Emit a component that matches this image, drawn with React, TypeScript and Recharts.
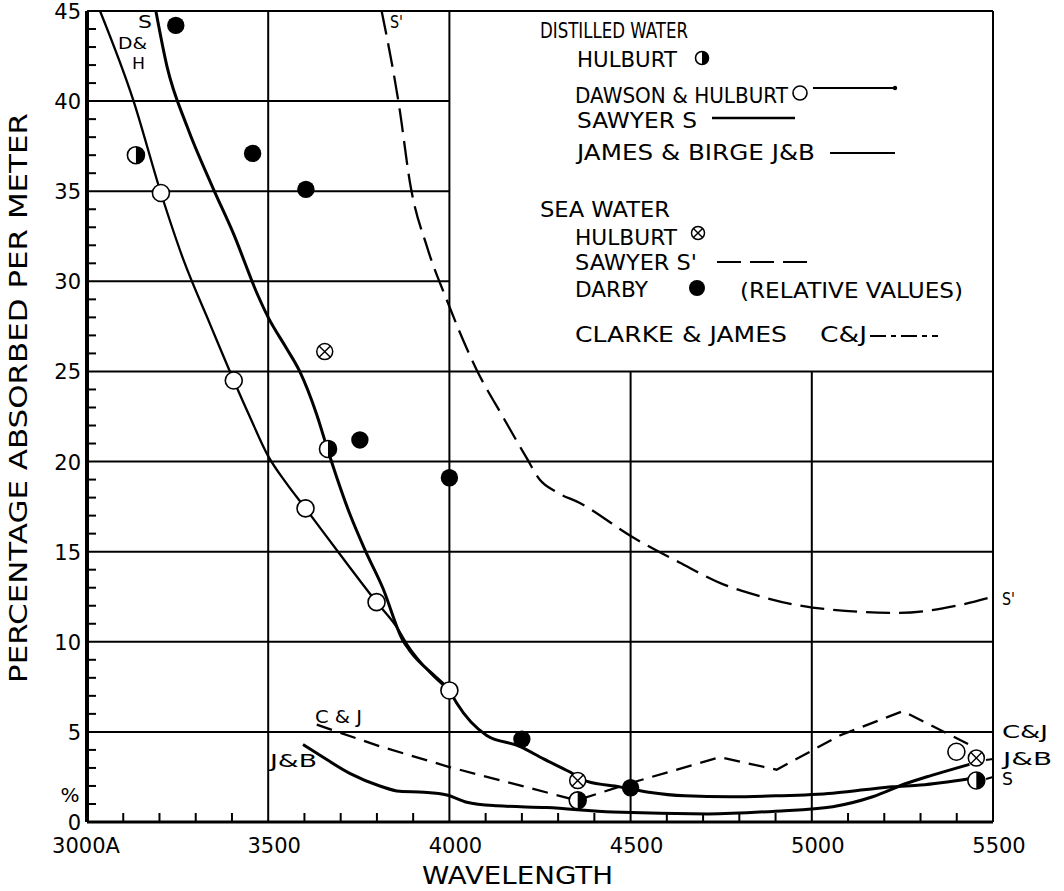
import React from 'react';
import { ComposedChart, Line, Scatter, XAxis, YAxis, ReferenceLine } from 'recharts';

const FONT = '"DejaVu Sans", "Liberation Sans", sans-serif';
const W = 1064;
const H = 891;

// ---- Distilled water curves ----
// Sawyer (S)
const sawyerWl = [3190, 3221, 3276, 3347, 3403, 3472, 3500, 3550, 3587, 3634, 3665, 3725, 3767, 3816, 3871, 3891, 3965, 4000, 4020, 4103, 4194, 4260, 4330, 4380, 4470, 4550, 4650, 4773, 4900, 5058, 5150, 5223, 5300, 5435];
const sawyerPct = [45, 41.9, 38.6, 35.2, 32.7, 29.2, 28.0, 26.3, 25.0, 22.6, 20.6, 17.1, 15.1, 13.0, 10.1, 9.5, 8.0, 7.3, 6.6, 4.8, 4.2, 3.5, 2.8, 2.25, 1.95, 1.65, 1.45, 1.4, 1.45, 1.6, 1.8, 1.95, 2.05, 2.4];

// Dawson & Hulburt (D&H)
const dawsonWl = [3036, 3127, 3204, 3266, 3340, 3405, 3449, 3500, 3550, 3603, 3700, 3799, 3855, 3882, 3946, 4000];
const dawsonPct = [45, 40.1, 34.9, 31.2, 27.6, 24.5, 22.5, 20.3, 18.8, 17.4, 14.8, 12.2, 10.8, 9.9, 8.3, 7.3];

// James & Birge (J&B)
const jamesWl = [3596, 3643, 3725, 3808, 3863, 3930, 3993, 4048, 4131, 4269, 4451, 4713, 4900, 5058, 5168, 5262, 5333, 5435];
const jamesPct = [4.3, 3.7, 2.7, 2.0, 1.7, 1.65, 1.5, 1.1, 0.9, 0.8, 0.55, 0.45, 0.6, 0.85, 1.4, 2.15, 2.6, 3.2];

// ---- Sea water curves ----
// Sawyer (S')
const sawyerSeaWl = [3813, 3863, 3891, 3940, 3992, 4075, 4150, 4213, 4249, 4296, 4360, 4506, 4635, 4754, 4828, 5002, 5242, 5400, 5500];
const sawyerSeaPct = [45, 39.5, 35.5, 31.8, 29.0, 25.1, 22.4, 20.2, 19.0, 18.3, 17.7, 15.8, 14.4, 13.2, 12.7, 11.9, 11.6, 12.0, 12.5];

// Clarke & James (C&J)
const clarkeWl = [3634, 3808, 4000, 4352, 4498, 4746, 4903, 5077, 5251, 5444];
const clarkePct = [5.4, 4.2, 3.05, 1.2, 2.15, 3.6, 2.9, 4.8, 6.15, 4.2];

// ---- Point observations ----
const hulburtDistWl = [3135, 3665, 4354, 5454];
const hulburtDistPct = [37.0, 20.7, 1.2, 2.3];

const dawsonPtWl = [3204, 3405, 3603, 3799, 4000, 5399];
const dawsonPtPct = [34.9, 24.5, 17.4, 12.2, 7.3, 3.9];

const darbyWl = [3245, 3457, 3604, 3753, 4000, 4200, 4500];
const darbyPct = [44.2, 37.1, 35.1, 21.2, 19.1, 4.6, 1.9];

const hulburtSeaWl = [3656, 4354, 5454];
const hulburtSeaPct = [26.1, 2.3, 3.55];

// ---- Axes and grid ----
const X_MIN = 3000;
const X_MAX = 5500;
const Y_MIN = 0;
const Y_MAX = 45;
const xTicks = Array.from({ length: 26 }, (_, i) => X_MIN + i * 100);
const yTicks = Array.from({ length: 46 }, (_, i) => i);
const fullRows = [5, 10, 15, 20, 25, 45];
const shortRows = [30, 35, 40];
const fullCols = [3500, 4000, 5500];
const shortCols = [4500, 5000];

const toPoints = (wl: number[], pct: number[]) => wl.map((x, i) => ({ x, y: pct[i] }));

const sawyer = toPoints(sawyerWl, sawyerPct);
const dawson = toPoints(dawsonWl, dawsonPct);
const james = toPoints(jamesWl, jamesPct);
const sawyerSea = toPoints(sawyerSeaWl, sawyerSeaPct);
const clarke = toPoints(clarkeWl, clarkePct);
const hulburtDist = toPoints(hulburtDistWl, hulburtDistPct);
const dawsonPts = toPoints(dawsonPtWl, dawsonPtPct);
const darby = toPoints(darbyWl, darbyPct);
const hulburtSea = toPoints(hulburtSeaWl, hulburtSeaPct);

// ---- Marker glyphs ----
const HalfDot = ({ cx, cy, r }: { cx: number; cy: number; r: number }) => (
  <g>
    <circle cx={cx} cy={cy} r={r} fill="#fff" stroke="#000" strokeWidth={1.6} />
    <path d={`M${cx},${cy - r} A${r},${r} 0 0 1 ${cx},${cy + r} Z`} fill="#000" />
  </g>
);
const OpenDot = ({ cx, cy, r }: { cx: number; cy: number; r: number }) => (
  <circle cx={cx} cy={cy} r={r} fill="#fff" stroke="#000" strokeWidth={1.6} />
);
const SolidDot = ({ cx, cy, r }: { cx: number; cy: number; r: number }) => (
  <circle cx={cx} cy={cy} r={r} fill="#000" />
);
const CrossDot = ({ cx, cy, r }: { cx: number; cy: number; r: number }) => {
  const d = r * 0.707;
  return (
    <g>
      <circle cx={cx} cy={cy} r={r} fill="#fff" stroke="#000" strokeWidth={1.5} />
      <line x1={cx - d} y1={cy - d} x2={cx + d} y2={cy + d} stroke="#000" strokeWidth={1.4} />
      <line x1={cx - d} y1={cy + d} x2={cx + d} y2={cy - d} stroke="#000" strokeWidth={1.4} />
    </g>
  );
};

// ---- Axis ticks: labels outside, small ticks pointing into the plot ----
const YTick = (props: any) => {
  const { x, y, payload } = props;
  const v = payload.value as number;
  const major = v % 5 === 0;
  return (
    <g>
      {!major && <line x1={x} x2={x + 9} y1={y} y2={y} stroke="#000" strokeWidth={2} />}
      {major && (
        <text x={x - 6} y={y + 8} textAnchor="end" fontSize={21} fontFamily={FONT} fill="#000">
          {v}
        </text>
      )}
    </g>
  );
};

const XTick = (props: any) => {
  const { x, y, payload } = props;
  const v = payload.value as number;
  const major = v % 500 === 0;
  return (
    <g>
      {!major && <line x1={x} x2={x} y1={y} y2={y - 9} stroke="#000" strokeWidth={2} />}
      {major && (
        <text x={v === X_MIN ? x - 1 : x + 6} y={y + 31} textAnchor="middle" fontSize={21} fontFamily={FONT} fill="#000">
          {v === X_MIN ? '3000A' : String(v)}
        </text>
      )}
    </g>
  );
};

const renderHalf = (p: any) => <HalfDot cx={p.cx} cy={p.cy} r={8.5} />;
const renderOpen = (p: any) => <OpenDot cx={p.cx} cy={p.cy} r={8.5} />;
const renderSolid = (p: any) => <SolidDot cx={p.cx} cy={p.cy} r={8.7} />;
const renderCross = (p: any) => <CrossDot cx={p.cx} cy={p.cy} r={8} />;

// ---- Text helper ----
const Txt = ({ x, y, w, size = 21, children, anchor = 'start' }: any) => (
  <text
    x={x}
    y={y}
    fontSize={size}
    fontFamily={FONT}
    fill="#000"
    textAnchor={anchor}
    textLength={w}
    lengthAdjust="spacingAndGlyphs"
  >
    {children}
  </text>
);

const Overlay = () => (
  <svg
    width={W}
    height={H}
    style={{ position: 'absolute', left: 0, top: 0, pointerEvents: 'none' }}
  >
    {/* axis titles */}
    <text
      transform="translate(27,398) rotate(-90)"
      textAnchor="middle"
      fontSize={24}
      fontFamily={FONT}
      fill="#000"
      textLength={570}
      lengthAdjust="spacingAndGlyphs"
    >
      PERCENTAGE ABSORBED PER METER
    </text>
    <Txt x={422} y={884} w={191} size={24}>WAVELENGTH</Txt>
    <text x={70} y={802} textAnchor="middle" fontSize={20} fontFamily={FONT} fill="#000">%</text>

    {/* curve tags */}
    <Txt x={138} y={28} w={14} size={18}>S</Txt>
    <Txt x={118} y={49} w={29} size={16}>D&amp;</Txt>
    <Txt x={132} y={69} w={13} size={16}>H</Txt>
    <Txt x={390} y={28} w={13} size={18}>S'</Txt>
    <Txt x={315} y={723} w={47} size={18}>C &amp; J</Txt>
    <Txt x={270} y={767} w={47} size={18}>J&amp;B</Txt>
    <Txt x={1002} y={605} w={13} size={18}>S'</Txt>
    <Txt x={1002} y={738} w={46} size={18}>C&amp;J</Txt>
    <Txt x={1003} y={765} w={49} size={18}>J&amp;B</Txt>
    <Txt x={1002} y={785} w={11} size={18}>S</Txt>
    <line x1={986} y1={760} x2={993} y2={759} stroke="#000" strokeWidth={2} />
    <line x1={986} y1={779} x2={993} y2={777} stroke="#000" strokeWidth={2} />

    {/* legend */}
    <Txt x={540} y={38} w={148}>DISTILLED WATER</Txt>
    <Txt x={577} y={67} w={100}>HULBURT</Txt>
    <HalfDot cx={702} cy={58} r={6.5} />
    <Txt x={575} y={103} w={213}>DAWSON &amp; HULBURT</Txt>
    <OpenDot cx={800} cy={93} r={7} />
    <line x1={813} y1={88} x2={893} y2={88} stroke="#000" strokeWidth={2} />
    <circle cx={895} cy={88} r={2.2} fill="#000" />
    <Txt x={577} y={128} w={120}>SAWYER  S</Txt>
    <line x1={712} y1={118} x2={795} y2={118} stroke="#000" strokeWidth={2.4} />
    <Txt x={577} y={160} w={238}>JAMES &amp; BIRGE  J&amp;B</Txt>
    <line x1={830} y1={153} x2={895} y2={153} stroke="#000" strokeWidth={2} />

    <Txt x={540} y={217} w={130}>SEA WATER</Txt>
    <Txt x={575} y={245} w={102}>HULBURT</Txt>
    <CrossDot cx={698} cy={233} r={6.5} />
    <Txt x={575} y={270} w={122}>SAWYER  S'</Txt>
    <line x1={717} y1={262} x2={810} y2={262} stroke="#000" strokeWidth={2} strokeDasharray="24 9" />
    <Txt x={575} y={297} w={73}>DARBY</Txt>
    <SolidDot cx={697} cy={288} r={8} />
    <Txt x={740} y={298} w={223}>(RELATIVE VALUES)</Txt>
    <Txt x={575} y={342} w={212}>CLARKE &amp; JAMES</Txt>
    <Txt x={820} y={342} w={47}>C&amp;J</Txt>
    <line x1={870} y1={336} x2={938} y2={336} stroke="#000" strokeWidth={2} strokeDasharray="16 5 5 5" />
  </svg>
);

export default function App() {
  return (
    <div style={{ position: 'relative', width: W, height: H, background: '#fff' }}>
      <style>{'body{margin:0;overflow:hidden;background:#fff}'}</style>
      <ComposedChart
        width={W}
        height={H}
        margin={{ top: 11, right: 71, bottom: 29, left: 0 }}
      >
        <XAxis
          type="number"
          dataKey="x"
          domain={[X_MIN, X_MAX]}
          ticks={xTicks}
          interval={0}
          allowDataOverflow
          height={40}
          tickSize={0}
          tickMargin={0}
          tickLine={false}
          tick={<XTick />}
          axisLine={{ stroke: '#000', strokeWidth: 3 }}
        />
        <YAxis
          type="number"
          dataKey="y"
          domain={[Y_MIN, Y_MAX]}
          ticks={yTicks}
          interval={0}
          allowDataOverflow
          width={87}
          tickSize={0}
          tickMargin={0}
          tickLine={false}
          tick={<YTick />}
          axisLine={{ stroke: '#000', strokeWidth: 4 }}
        />

        {fullRows.map((v) => (
          <ReferenceLine key={`r${v}`} segment={[{ x: X_MIN, y: v }, { x: X_MAX, y: v }]} stroke="#000" strokeWidth={2} />
        ))}
        {shortRows.map((v) => (
          <ReferenceLine key={`s${v}`} segment={[{ x: X_MIN, y: v }, { x: 4000, y: v }]} stroke="#000" strokeWidth={2} />
        ))}
        {fullCols.map((v) => (
          <ReferenceLine key={`c${v}`} segment={[{ x: v, y: Y_MIN }, { x: v, y: Y_MAX }]} stroke="#000" strokeWidth={2} />
        ))}
        {shortCols.map((v) => (
          <ReferenceLine key={`k${v}`} segment={[{ x: v, y: Y_MIN }, { x: v, y: 25 }]} stroke="#000" strokeWidth={2} />
        ))}

        <Line data={sawyer} dataKey="y" type="monotone" stroke="#000" strokeWidth={3} dot={false} activeDot={false} isAnimationActive={false} />
        <Line data={dawson} dataKey="y" type="monotone" stroke="#000" strokeWidth={2.3} dot={false} activeDot={false} isAnimationActive={false} />
        <Line data={james} dataKey="y" type="monotone" stroke="#000" strokeWidth={3} dot={false} activeDot={false} isAnimationActive={false} />
        <Line data={sawyerSea} dataKey="y" type="monotone" stroke="#000" strokeWidth={2.3} strokeDasharray="24 9" dot={false} activeDot={false} isAnimationActive={false} />
        <Line data={clarke} dataKey="y" type="linear" stroke="#000" strokeWidth={2.3} strokeDasharray="16 9" dot={false} activeDot={false} isAnimationActive={false} />

        <Scatter data={hulburtDist} dataKey="y" shape={renderHalf} isAnimationActive={false} />
        <Scatter data={dawsonPts} dataKey="y" shape={renderOpen} isAnimationActive={false} />
        <Scatter data={darby} dataKey="y" shape={renderSolid} isAnimationActive={false} />
        <Scatter data={hulburtSea} dataKey="y" shape={renderCross} isAnimationActive={false} />
      </ComposedChart>
      <Overlay />
    </div>
  );
}
